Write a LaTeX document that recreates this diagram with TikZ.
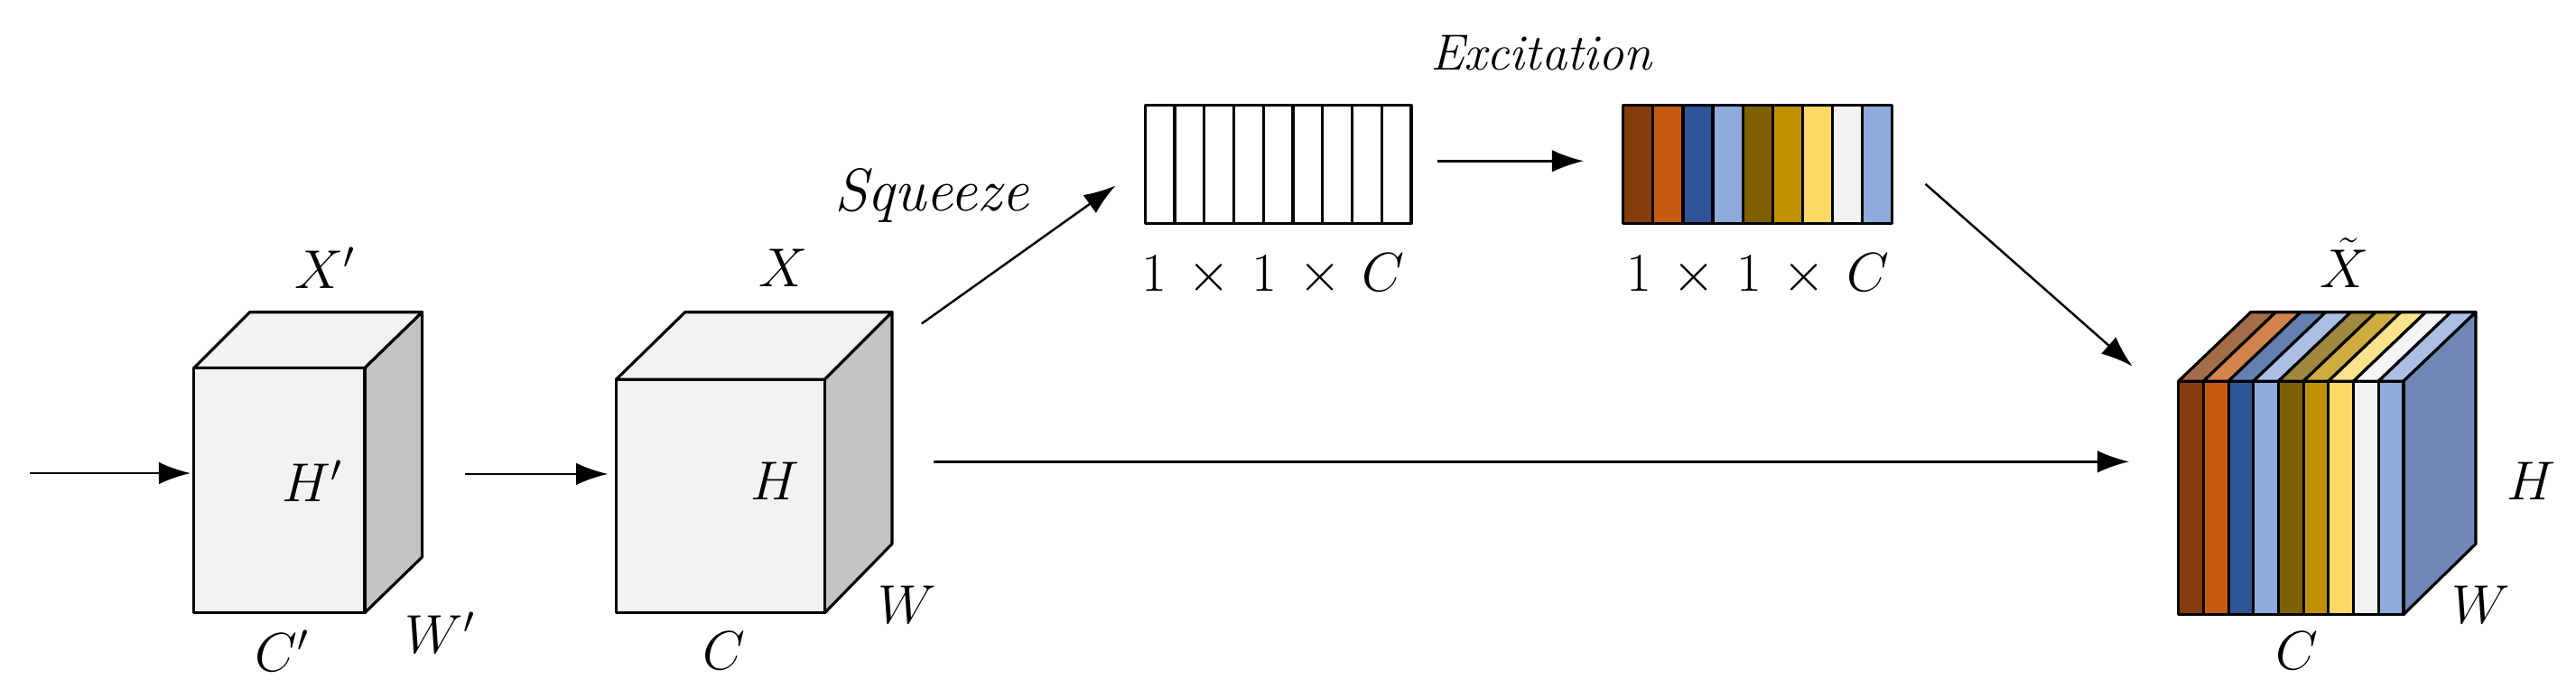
\documentclass[tikz,border=0pt]{standalone}
\usetikzlibrary{arrows.meta}
\definecolor{cA}{HTML}{843C0C}\definecolor{cB}{HTML}{C55A11}\definecolor{cC}{HTML}{2F5597}
\definecolor{cD}{HTML}{8FAADC}\definecolor{cE}{HTML}{7F6000}\definecolor{cF}{HTML}{BF9000}
\definecolor{cG}{HTML}{FFD966}\definecolor{cH}{HTML}{F2F2F2}\definecolor{cI}{HTML}{8FAADC}
\definecolor{side}{HTML}{6F88B5}\definecolor{lgrey}{HTML}{F2F2F2}\definecolor{dgrey}{HTML}{C4C4C4}
\begin{document}
\begin{tikzpicture}[x=0.0182cm,y=-0.0182cm,
  arr/.style={-{Latex[length=10pt,width=7pt]},line width=0.7pt},
  edge/.style={line width=0.9pt,line join=round},
  lab/.style={font=\fontsize{18}{20}\selectfont,inner sep=0pt},
  big/.style={font=\fontsize{19}{21}\selectfont,inner sep=0pt},
  word/.style={font=\fontsize{16}{18}\selectfont\itshape,inner sep=0pt}]
\useasboundingbox (0,0) rectangle (1568,424.3);
% cube 1
\draw[edge,fill=lgrey] (118,224)--(152,190)--(257,190)--(222,224)--cycle;
\draw[edge,fill=dgrey] (222,224)--(257,190)--(257,339)--(222,373)--cycle;
\draw[edge,fill=lgrey] (118,224) rectangle (222,373);
\coordinate (c1w) at (116,288); \coordinate (c1e) at (259,288);
\node[lab] at (198,163) {$X'$};
\node[lab] at (190,293) {$H'$};
\node[lab] at (268,385) {$W'$};
\node[lab] at (172,396) {$C'$};
% cube 2
\draw[edge,fill=lgrey] (375,231)--(417,190)--(543,190)--(502,231)--cycle;
\draw[edge,fill=dgrey] (502,231)--(543,190)--(543,331)--(502,373)--cycle;
\draw[edge,fill=lgrey] (375,231) rectangle (502,373);
\coordinate (c2w) at (370,288.5); \coordinate (c2e) at (568,281); \coordinate (c2n) at (561,197);
\node[lab] at (477,163) {$X$};
\node[lab] at (472,293) {$H$};
\node[lab] at (552,368) {$W$};
\node[lab] at (441,396) {$C$};
% white bar
\foreach \i in {0,...,8}{\draw[edge,fill=white] ({697+\i*18},64) rectangle ({697+(\i+1)*18},136);}
\coordinate (wbw) at (679,113); \coordinate (wbe) at (875,98);
\node[big] at (775,167) {$1\mskip3mu\times\mskip3mu1\mskip3mu\times\mskip3mu C$};
% colour bar
\foreach \c [count=\i from 0] in {cA,cB,cC,cD,cE,cF,cG,cH,cI}{\draw[edge,fill=\c] ({988+\i*18.2},64) rectangle ({988+(\i+1)*18.2},136);}
\coordinate (cbw) at (964,98); \coordinate (cbe) at (1172,112);
\node[big] at (1070,167) {$1\mskip3mu\times\mskip3mu1\mskip3mu\times\mskip3mu C$};
\node[word] at (938,32) {Excitation};
\node[word,font=\fontsize{19}{21}\selectfont\itshape] at (567,119) {Squeeze};
% output cube
\foreach \c [count=\i from 0] in {cA,cB,cC,cD,cE,cF,cG,cH,cI}{
  \draw[edge,fill=\c!75!white] ({1326+\i*15.22},232)--({1370+\i*15.22},190)--({1370+(\i+1)*15.22},190)--({1326+(\i+1)*15.22},232)--cycle;}
\draw[edge,fill=side] (1463,232)--(1507,190)--(1507,331)--(1463,374)--cycle;
\foreach \c [count=\i from 0] in {cA,cB,cC,cD,cE,cF,cG,cH,cI}{
  \draw[edge,fill=\c] ({1326+\i*15.22},232) rectangle ({1326+(\i+1)*15.22},374);}
\coordinate (ocw) at (1296,281); \coordinate (ocn) at (1298,223);
\node[lab] at (1427,160) {$\tilde{X}$};
\node[lab] at (1541,293) {$H$};
\node[lab] at (1510,368) {$W$};
\node[lab] at (1398,396) {$C$};
% arrows
\coordinate (in) at (18,288);
\draw[arr] (in) -- (c1w);
\draw[arr] (c1e) ++(24,0.5) -- (c2w);
\draw[arr] (c2e) -- (ocw);
\draw[arr] (c2n) -- (wbw);
\draw[arr] (wbe) -- (cbw);
\draw[arr] (cbe) -- (ocn);
\end{tikzpicture}
\end{document}
